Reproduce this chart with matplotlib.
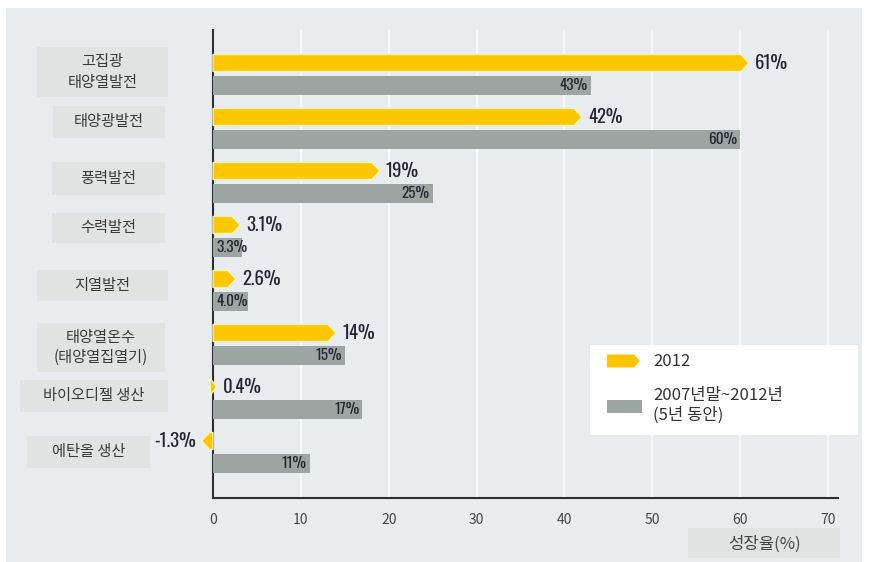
import matplotlib
matplotlib.use("Agg")
import matplotlib.pyplot as plt
from matplotlib.patches import Polygon, Rectangle
from matplotlib import transforms

plt.rcParams['font.family'] = ['Noto Sans CJK KR', 'DejaVu Sans']

# ---- data ----
categories = ["고집광\n태양열발전", "태양광발전", "풍력발전", "수력발전",
              "지열발전", "태양열온수\n(태양열집열기)", "바이오디젤 생산", "에탄올 생산"]
growth_2012 = [61, 42, 19, 3.1, 2.6, 14, 0.4, -1.3]
growth_5yr = [43, 60, 25, 3.3, 4.0, 15, 17, 11]
labels_2012 = ["61%", "42%", "19%", "3.1%", "2.6%", "14%", "0.4%", "-1.3%"]
labels_5yr = ["43%", "60%", "25%", "3.3%", "4.0%", "15%", "17%", "11%"]
xticks = [0, 10, 20, 30, 40, 50, 60, 70]
legend_labels = ["2012", "2007년말~2012년\n(5년 동안)"]
xlabel = "성장율(%)"

# ---- style ----
W, H = 872, 562
YELLOW = "#fac700"
GRAY = "#9da5a3"
PANEL = "#e9ecef"
BOXC = "#e1e2e2"
TXT = "#262633"
COND = ["Oswald", "DejaVu Sans"]

fig = plt.figure(figsize=(W / 100, H / 100), dpi=100, facecolor="white")
fig.patches.append(Rectangle((6 / W, 0), (862 - 6) / W, 1 - 8 / H,
                             transform=fig.transFigure, facecolor=PANEL,
                             edgecolor="none", zorder=-10))

ax = fig.add_axes([213 / W, 1 - 498 / H, (838 - 213) / W, (498 - 30) / H])
ax.set_facecolor("none")

PX_X = 70 / (828 - 213)       # data units per pixel (x)
PX_Y = 1 / 54                 # data units per pixel (y)
ax.set_xlim(0, (838 - 213) * PX_X)
ax.set_ylim(7.843, -0.824)

for t in xticks[1:]:
    ax.axvline(t, color="#f6f7f8", lw=1.6, zorder=0)

dy = 11.5 * PX_Y
hy = 17 * PX_Y
hg = 19 * PX_Y
tip = 8 * PX_X

for i, (v1, v2) in enumerate(zip(growth_2012, growth_5yr)):
    # 2012: arrow-shaped bar
    yc = i - dy
    s = 1 if v1 >= 0 else -1
    if abs(v1) >= tip:
        start, body = 0, v1 - s * tip
    else:
        start, body = -s * (tip - abs(v1)) * 0.6, -s * (tip - abs(v1)) * 0.6
    pts = [(start, yc - hy / 2), (body, yc - hy / 2), (v1, yc),
           (body, yc + hy / 2), (start, yc + hy / 2)]
    ax.add_patch(Polygon(pts, closed=True, facecolor=YELLOW, edgecolor="#fff3bd",
                         lw=1.0, zorder=3, clip_on=False))
    if v1 >= 0:
        ax.text(v1 + 6 * PX_X, yc, labels_2012[i], ha="left", va="center",
                fontsize=13.5, family=COND, color=TXT, zorder=5)
    else:
        ax.text(v1 - 6 * PX_X, yc, labels_2012[i], ha="right", va="center",
                fontsize=13.5, family=COND, color=TXT, zorder=5, clip_on=False)

    # 5-year: plain bar with value inside
    yg = i + dy
    ax.barh(yg, v2, height=hg, color=GRAY, edgecolor="none", zorder=3)
    if v2 >= 5:
        ax.text(v2 - 3 * PX_X, yg, labels_5yr[i], ha="right", va="center",
                fontsize=11, family=COND, color=TXT, zorder=5)
    else:
        ax.text(3 * PX_X, yg, labels_5yr[i], ha="left", va="center",
                fontsize=11, family=COND, color=TXT, zorder=5)

# category labels on grey boxes (x in figure pixels, y relative to row)
label_boxes = [(37, 168, -2.5, 50), (53, 165, -6.5, 32), (52, 165, -4, 33),
               (52, 165, -8.5, 30), (37, 168, -5, 31), (37, 165, 3, 49),
               (20, 168, -2.5, 32), (27, 150, -0.5, 32)]
bt = transforms.blended_transform_factory(fig.transFigure, ax.transData)
for i, (cat, (x0, x1, nud, h)) in enumerate(zip(categories, label_boxes)):
    yc = i + nud * PX_Y
    fig.patches.append(Rectangle((x0 / W, yc - h * PX_Y / 2), (x1 - x0) / W, h * PX_Y,
                                 transform=bt, facecolor=BOXC, edgecolor="none",
                                 zorder=-5))
    fig.text((x0 + x1) / 2 / W, yc, cat, transform=bt, ha="center", va="center",
             fontsize=11, color="#3a3a3a", linespacing=1.25)

# axes styling
for side in ["top", "right"]:
    ax.spines[side].set_visible(False)
for side in ["left", "bottom"]:
    ax.spines[side].set_color("#2f2f2f")
    ax.spines[side].set_linewidth(1.5)
ax.set_yticks([])
ax.set_xticks(xticks)
ax.set_xticklabels([str(t) for t in xticks], fontsize=10, color="#444444")
ax.tick_params(axis="x", length=0, pad=11)

# x-axis title box
fig.patches.append(Rectangle((688 / W, 1 - 558 / H), (840 - 688) / W, 30 / H,
                             transform=fig.transFigure, facecolor=BOXC,
                             edgecolor="none", zorder=-5))
fig.text(764 / W, 1 - 544 / H, xlabel, ha="center", va="center",
         fontsize=12, color="#444444")

# legend
fig.patches.append(Rectangle((590 / W, 1 - 435 / H), (858 - 590) / W, 90 / H,
                             transform=fig.transFigure, facecolor="white",
                             edgecolor="none", zorder=5))
lx0, lx1 = 607 / W, 640 / W
ly = 1 - 361 / H
lh = 13 / H
lt = 6 / W
fig.patches.append(Polygon([(lx0, ly - lh / 2), (lx1 - lt, ly - lh / 2), (lx1, ly),
                            (lx1 - lt, ly + lh / 2), (lx0, ly + lh / 2)],
                           closed=True, transform=fig.transFigure,
                           facecolor=YELLOW, edgecolor="none", zorder=6))
fig.patches.append(Rectangle((607 / W, 1 - 413 / H), 35 / W, 13 / H,
                             transform=fig.transFigure, facecolor=GRAY,
                             edgecolor="none", zorder=6))
fig.text(653 / W, 1 - 361 / H, legend_labels[0], ha="left", va="center",
         fontsize=12, color="#333333", zorder=7)
fig.text(653 / W, 1 - 405 / H, legend_labels[1], ha="left", va="center",
         fontsize=12, color="#333333", linespacing=1.2, zorder=7)

fig.savefig("out.png", dpi=100, facecolor="white")
